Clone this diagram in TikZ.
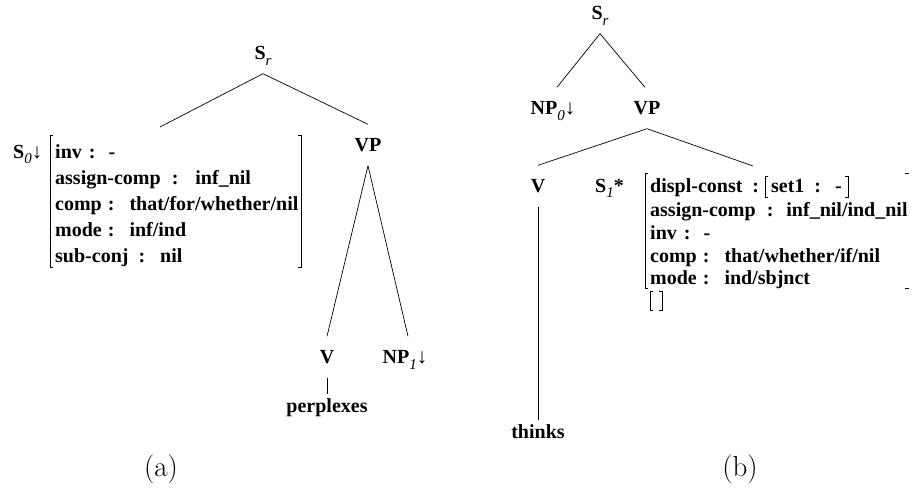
\documentclass[tikz,border=0pt]{standalone}
\usepackage{fontspec}
\setmainfont{Liberation Serif}
\newfontfamily\cmfont{Latin Modern Roman}
\newcommand\lsub[1]{\raisebox{-0.28em}{\fontsize{15}{15}\selectfont\mdseries\itshape #1}}
\newcommand\dn{{\mdseries\fontsize{21}{21}\selectfont\char"2193}}
\begin{document}
\begin{tikzpicture}[x=1pt,y=-1pt,
  lab/.style={font=\fontsize{20}{24}\selectfont\bfseries, inner xsep=0pt, inner ysep=14pt, text height=13pt, text depth=0pt},
  word/.style={font=\fontsize{20}{24}\selectfont\bfseries, inner xsep=0pt, inner ysep=4pt},
  row/.style={font=\fontsize{20}{24}\selectfont\bfseries, inner sep=0pt, anchor=base west},
  edge/.style={line width=0.7pt},
  brk/.style={line width=0.7pt},
  captext/.style={font=\fontsize{29}{33}\selectfont\cmfont, inner sep=0pt}]
\useasboundingbox (0,0) rectangle (914,501);

% ---------------- tree (a)
\node[lab] (srA) at (263,53) {S\lsub{r}};
\node[row] (s0A) at (13,158) {S\lsub{0}\dn};
\coordinate (s0top) at (160,127);
\node[lab] (vpA) at (368,145) {VP};
\node[lab] (vA) at (327,357) {V};
\node[lab] (np1A) at (405,357) {NP\lsub{1}\dn};
\node[word, anchor=base] (perpA) at (327,412) {perplexes};
\draw[edge] (srA.south) -- (s0top);
\draw[edge] (srA.south) -- (vpA.north);
\draw[edge] (vpA.south) -- (vA.north);
\draw[edge] (vpA.south) -- ([xshift=3pt]np1A.north);
\draw[edge] (vA.south) -- (perpA.north);

\node[row] (a1) at (55,158) {inv\hspace{7pt}:\hspace{13pt}-};
\node[row] (a2) at (55,184) {assign-comp\hspace{11pt}:\hspace{17pt}inf\_nil};
\node[row] (a3) at (55,210) {comp\hspace{6pt}:\hspace{15pt}that/for/whether/nil};
\node[row] (a4) at (55,236) {mode\hspace{6pt}:\hspace{15pt}inf/ind};
\node[row] (a5) at (55,262) {sub-conj\hspace{10pt}:\hspace{15pt}nil};
\draw[brk] (53,135) -- (50,135) -- (50,267) -- (53,267);
\draw[brk] (298,135) -- (301,135) -- (301,267) -- (298,267);

\node[captext] (capA) at (161,469) {(a)};

% ---------------- tree (b)
\node[lab] (srB) at (600,13) {S\lsub{r}};
\node[lab] (np0B) at (553,108) {NP\lsub{0}\dn};
\node[lab] (vpB) at (647,108) {VP};
\node[lab] (vB) at (538,186) {V};
\node[row] (s1B) at (595,192) {S\lsub{1}*};
\coordinate (s1top) at (753,166);
\node[word, anchor=base] (thinksB) at (538,438) {thinks};
\draw[edge] (srB.south) -- ([xshift=4pt]np0B.north);
\draw[edge] (srB.south) -- ([xshift=-2pt]vpB.north);
\draw[edge] (vpB.south) -- (vB.north);
\draw[edge] (vpB.south) -- (s1top);
\draw[edge] (vB.south) -- (thinksB.north);

\node[row] (b1) at (650,192) {displ-const\hspace{10pt}:\hspace{12pt}set1\hspace{10pt}:\hspace{14pt}-};
\node[row] (b2) at (650,216) {assign-comp\hspace{11pt}:\hspace{13pt}inf\_nil/ind\_nil};
\node[row] (b3) at (650,239) {inv\hspace{7pt}:\hspace{13pt}-};
\node[row] (b4) at (650,262) {comp\hspace{6pt}:\hspace{15pt}that/whether/if/nil};
\node[row] (b5) at (650,284) {mode\hspace{6pt}:\hspace{15pt}ind/sbjnct};
% inner bracket [set1 : -]
\draw[brk] (768,176) -- (765,176) -- (765,197) -- (768,197);
\draw[brk] (845,176) -- (848,176) -- (848,197) -- (845,197);
% outer bracket
\draw[brk] (648,173) -- (645,173) -- (645,288) -- (648,288);
\draw[brk] (905,173) -- (909,173);
\draw[brk] (905,288) -- (909,288);
% empty []
\draw[brk] (653,291) -- (650,291) -- (650,310) -- (653,310);
\draw[brk] (659,291) -- (662,291) -- (662,310) -- (659,310);

\node[captext] (capB) at (740,469) {(b)};
\end{tikzpicture}
\end{document}
